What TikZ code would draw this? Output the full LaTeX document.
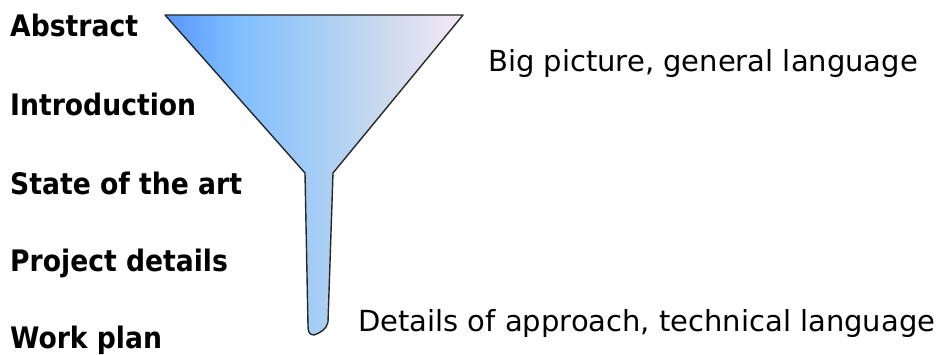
\documentclass[tikz,border=0pt]{standalone}
\usepackage{fontspec}
\setmainfont{DejaVu Sans}
\newfontfamily\condfont{DejaVu Sans Condensed}
\definecolor{funL}{RGB}{88,150,252}
\definecolor{funA}{RGB}{128,190,255}
\definecolor{funM}{RGB}{165,205,245}
\definecolor{funB}{RGB}{205,218,238}
\definecolor{funR}{RGB}{246,232,246}
\definecolor{funEdge}{RGB}{40,40,40}
\pgfdeclarehorizontalshading{funnelshade}{100bp}{color(0bp)=(funL); color(25bp)=(funL); color(37bp)=(funA); color(50bp)=(funM); color(62bp)=(funB); color(75bp)=(funR); color(100bp)=(funR)}
\begin{document}
\begin{tikzpicture}[x=1pt,y=-1pt]
\tikzstyle{section}=[anchor=base west, inner sep=0pt, font=\fontsize{29.6}{31}\selectfont\condfont\bfseries]
\tikzstyle{level}=[anchor=base west, inner sep=0pt, font=\fontsize{29}{31}\selectfont]
    \useasboundingbox (0,0) rectangle (943,355);

    % funnel
    \draw[funEdge, line width=1.4pt, line join=round, shading=funnelshade]
        (165,15) -- (463,15) -- (333,173) -- (328,322)
        .. controls (327,329) and (320,333) .. (314,335)
        .. controls (309,335) and (308,331) .. (308,326)
        -- (305,173) -- cycle;

    \node[section] (abstract) at (10,37) {Abstract};
    \node[section] (intro) at (10,116) {Introduction};
    \node[section] (soa) at (10,195) {State of the art};
    \node[section] (details) at (10,272) {Project details};
    \node[section] (workplan) at (10,349) {Work plan};

    \node[level] (general) at (488,72) {Big picture, general language};
    \node[level] (technical) at (358,332) {Details of approach, technical language};
\end{tikzpicture}
\end{document}
